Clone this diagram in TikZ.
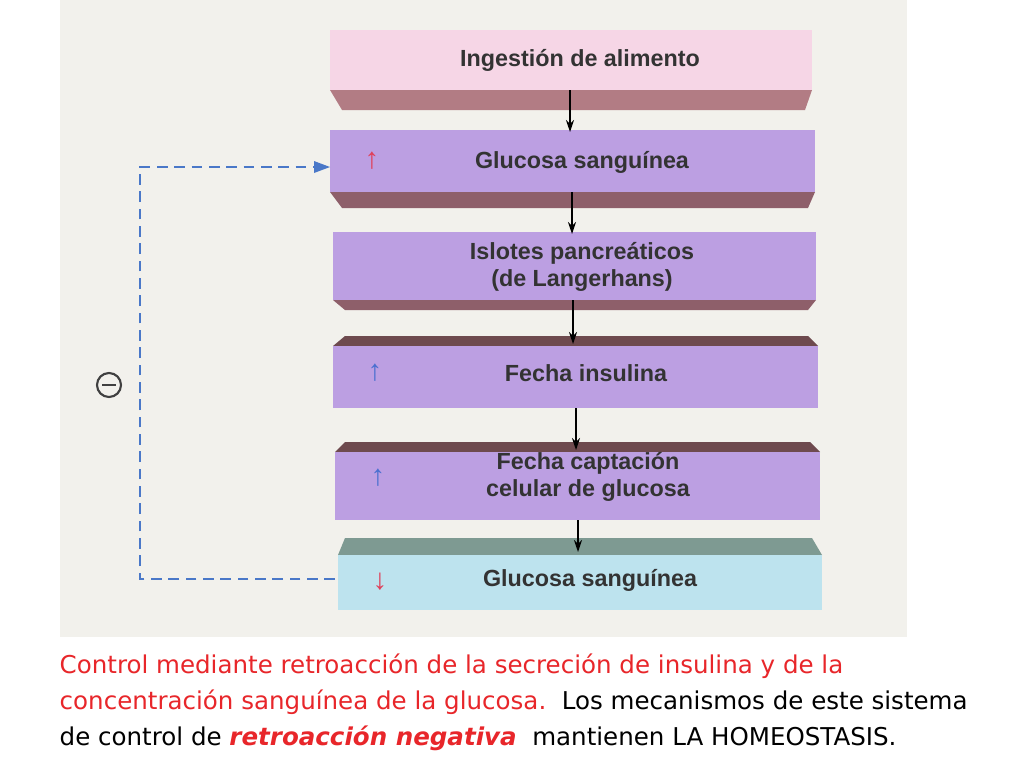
\documentclass[tikz,border=0pt]{standalone}
\usepackage{fontspec}
\setmainfont{Liberation Sans}
\newfontfamily\capfont{DejaVu Sans}
\usetikzlibrary{arrows.meta}
\definecolor{bg}{HTML}{F2F1EC}
\definecolor{pinkface}{HTML}{F6D6E6}
\definecolor{pinkband}{HTML}{B27C84}
\definecolor{purpface}{HTML}{BC9FE2}
\definecolor{purpband}{HTML}{8E5F6A}
\definecolor{darkband}{HTML}{6E4A4E}
\definecolor{cyanface}{HTML}{BDE3EE}
\definecolor{greyband}{HTML}{7E9A92}
\definecolor{dashblue}{HTML}{4A78C8}
\definecolor{capred}{HTML}{E8262A}
\definecolor{uparrred}{HTML}{E0405A}
\definecolor{uparrblue}{HTML}{4A6FD0}
\tikzset{x=0.75pt,y=-0.75pt,
 boxtxt/.style={font=\bfseries\fontsize{17.5}{20}\selectfont, text=black!80, align=center},
 arr/.style={font=\fontsize{22}{22}\selectfont},
 flow/.style={-{Stealth[length=9pt,width=6pt]}, line width=1.2pt},
 captxt/.style={anchor=west, font=\capfont\fontsize{18.4}{25}\selectfont},
 fb/.style={dashed, dash pattern=on 8pt off 5pt, draw=dashblue, line width=1.4pt}}
\begin{document}
\begin{tikzpicture}
\useasboundingbox (0,0) rectangle (1024,768);
\fill[white] (0,0) rectangle (1024,768);
\fill[bg] (60,0) rectangle (907,637);
% box 1
\fill[pinkface] (330,30) rectangle (812,90);
\fill[pinkband] (330,90) -- (812,90) -- (805,110) -- (342,110) -- cycle;
\node[boxtxt] (b1) at (580,60) {Ingestión de alimento};
% box 2
\fill[purpface] (330,130) rectangle (815,192);
\fill[purpband] (330,192) -- (815,192) -- (808,208) -- (342,208) -- cycle;
\node[boxtxt] (b2) at (582,162) {Glucosa sanguínea};
\node[arr, text=uparrred] (u2) at (372,161) {↑};
% box 3
\fill[purpface] (333,232) rectangle (816,300);
\fill[purpband] (333,300) -- (816,300) -- (808,310) -- (345,310) -- cycle;
\node[boxtxt] (b3) at (582,267) {Islotes pancreáticos\\(de Langerhans)};
% box 4
\fill[darkband] (333,346) -- (345,336) -- (808,336) -- (818,346) -- cycle;
\fill[purpface] (333,346) rectangle (818,408);
\node[boxtxt] (b4) at (586,373) {Fecha insulina};
\node[arr, text=uparrblue] (u4) at (375,373) {↑};
% box 5
\fill[darkband] (335,452) -- (345,442) -- (810,442) -- (820,452) -- cycle;
\fill[purpface] (335,452) rectangle (820,520);
\node[boxtxt] (b5) at (588,477) {Fecha captación\\celular de glucosa};
\node[arr, text=uparrblue] (u5) at (378,478) {↑};
% box 6
\fill[greyband] (338,555) -- (345,538) -- (812,538) -- (822,555) -- cycle;
\fill[cyanface] (338,555) rectangle (822,610);
\node[boxtxt] (b6) at (590,580) {Glucosa sanguínea};
\node[arr, text=uparrred] (u6) at (380,582) {↓};
% flow arrows
\coordinate (a1s) at (570,90); \coordinate (a1e) at (570,132);
\coordinate (a2s) at (572,192); \coordinate (a2e) at (572,234);
\coordinate (a3s) at (573,300); \coordinate (a3e) at (573,344);
\coordinate (a4s) at (576,408); \coordinate (a4e) at (576,450);
\coordinate (a5s) at (578,520); \coordinate (a5e) at (578,552);
\draw[flow] (a1s) -- (a1e);
\draw[flow] (a2s) -- (a2e);
\draw[flow] (a3s) -- (a3e);
\draw[flow] (a4s) -- (a4e);
\draw[flow] (a5s) -- (a5e);
% feedback
\coordinate (fs) at (335,579);
\coordinate (fe) at (328,167);
\draw[fb] (fs) -- (140,579) -- (140,167) -- (318,167);
\fill[dashblue] (330,167) -- (314,161) -- (314,173) -- cycle;
\node[circle, draw=black!75, line width=1.6pt, minimum size=18pt, inner sep=0pt] (minus) at (109,385) {};
\draw[line width=2pt, black!75] (102,385) -- (116,385);
% caption
\node[captxt, text=capred] (c1) at (55,666) {Control mediante retroacción de la secreción de insulina y de la};
\node[captxt, text=capred] (c2) at (55,702) {concentración sanguínea de la glucosa.\ \ \textcolor{black}{Los mecanismos de este sistema}};
\node[captxt] (c3) at (55,738) {de control de \textcolor{capred}{\bfseries\itshape retroacción negativa}\ \ mantienen LA HOMEOSTASIS.};
\end{tikzpicture}
\end{document}
